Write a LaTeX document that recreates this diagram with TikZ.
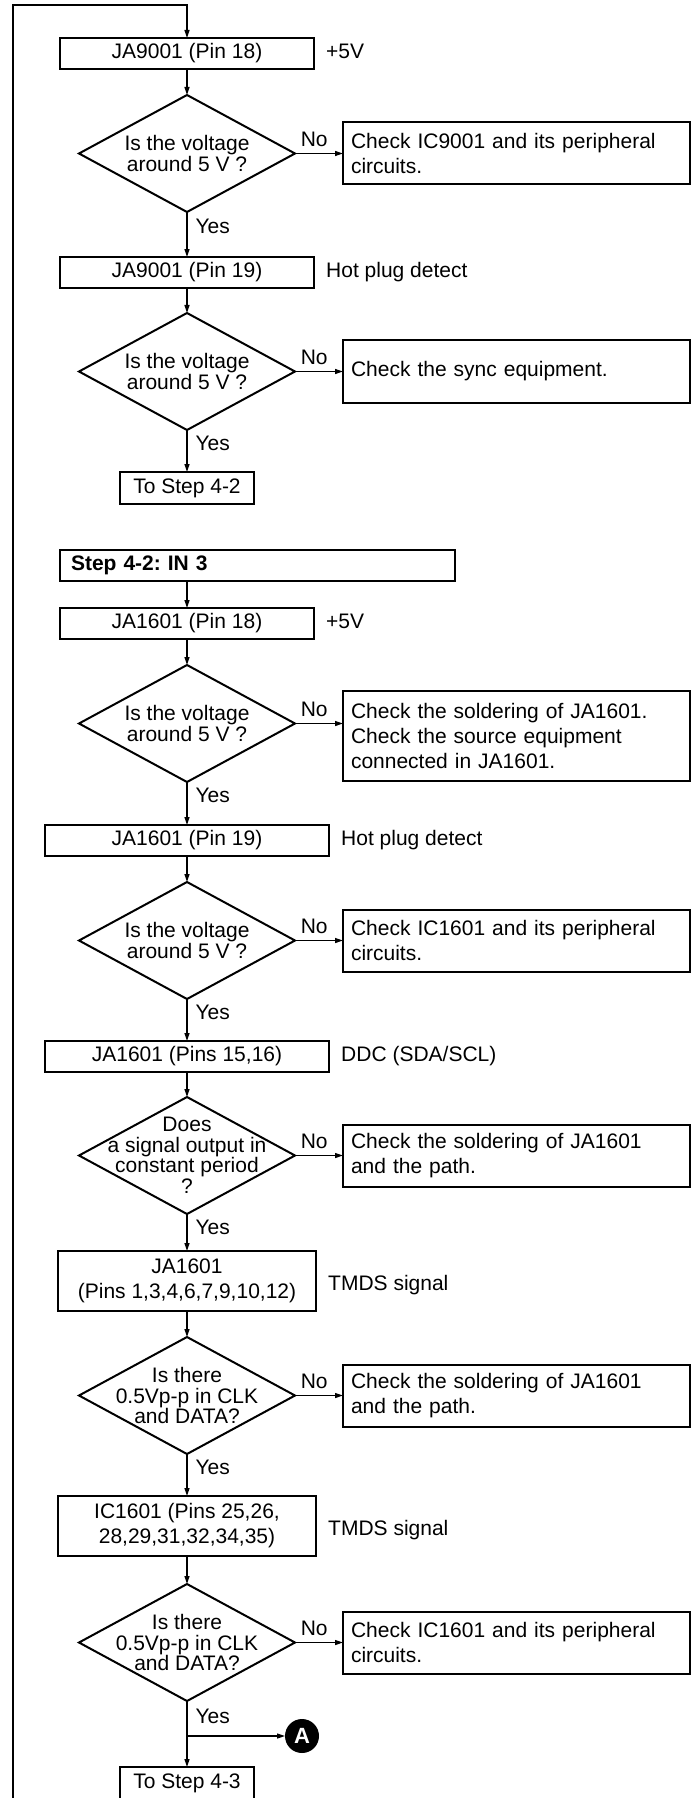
\documentclass[tikz,border=0pt]{standalone}
\usepackage{fontspec}
\setmainfont{Liberation Sans}
\usetikzlibrary{arrows.meta,positioning,shapes.geometric}
\frenchspacing

\begin{document}
\begin{tikzpicture}[
  x=1pt,y=1pt,
  txt/.style={font=\fontsize{21}{25}\selectfont},
  tbox/.style={txt,draw,line width=2pt,outer sep=0pt,minimum height=31pt,inner ysep=3pt,align=center},
  ask/.style={diamond,draw,line width=2pt,outer sep=0pt,minimum width=216pt,minimum height=117pt,inner sep=0pt},
  qtext/.style={font=\fontsize{21}{20.5}\selectfont,align=center,inner sep=0pt},
  fixbox/.style={txt,draw,line width=2pt,outer sep=0pt,minimum height=62pt,text width=331pt,inner xsep=8pt,align=left},
  note/.style={txt,inner sep=0pt},
  yes/.style={txt,right,inner sep=0pt,xshift=8pt},
  no/.style={txt,above=6pt,inner sep=0pt},
  tag/.style={circle,fill=black,minimum size=34pt,inner sep=0pt,outer sep=0pt,text=white,
              font=\fontsize{22}{22}\selectfont\bfseries},
  wire/.style={line width=1.2pt},
  link/.style={wire,-{Triangle[length=8pt,width=5pt]}}
]
\useasboundingbox (0,0) rectangle (691,-1798);

% main column
\node[tbox,minimum width=254pt,anchor=north] (b1) at (187,-38) {JA9001 (Pin 18)};
\node[ask,below=26pt of b1,label={[qtext]center:{Is the voltage\\around 5 V ?}}] (q1) {};
\node[tbox,minimum width=254pt,below=45pt of q1] (b2) {JA9001 (Pin 19)};
\node[ask,below=25pt of b2,label={[qtext]center:{Is the voltage\\around 5 V ?}}] (q2) {};
\node[tbox,minimum width=134pt,minimum height=32pt,below=42pt of q2] (done1) {To Step 4-2};

\node[tbox,below=46pt of done1,xshift=70.5pt,text width=373pt,inner xsep=11pt,align=left,
      font=\fontsize{21}{25}\selectfont\bfseries] (head) {Step 4-2: IN 3};
\coordinate (h) at (head.south -| done1.south);

\node[tbox,minimum width=254pt,below=27pt of h] (b3) {JA1601 (Pin 18)};
\node[ask,below=26pt of b3,label={[qtext]center:{Is the voltage\\around 5 V ?}}] (q3) {};
\node[tbox,minimum width=284pt,below=43pt of q3] (b4) {JA1601 (Pin 19)};
\node[ask,below=26pt of b4,label={[qtext]center:{Is the voltage\\around 5 V ?}}] (q4) {};
\node[tbox,minimum width=284pt,below=42pt of q4] (b5) {JA1601 (Pins 15,16)};
\node[ask,below=25pt of b5,label={[qtext]center:{Does\\a signal output in\\constant period\\?}}] (q5) {};
\node[tbox,minimum width=258pt,minimum height=60pt,below=37pt of q5] (b6) {JA1601\\(Pins 1,3,4,6,7,9,10,12)};
\node[ask,below=26pt of b6,label={[qtext]center:{Is there\\0.5Vp-p in CLK\\and DATA?}}] (q6) {};
\node[tbox,minimum width=258pt,minimum height=60pt,below=42pt of q6] (b7) {IC1601 (Pins 25,26,\\28,29,31,32,34,35)};
\node[ask,below=28pt of b7,label={[qtext]center:{Is there\\0.5Vp-p in CLK\\and DATA?}}] (q7) {};
\coordinate[below=35pt of q7] (fork);
\node[tbox,minimum width=134pt,minimum height=32pt,below=31pt of fork] (done2) {To Step 4-3};
\node[tag,right=98pt of fork] (A) {A};

% what to check on a No
\node[fixbox,right=48pt of q1] (c1) {Check IC9001 and its peripheral\\circuits.};
\node[fixbox,minimum height=63pt,right=48pt of q2] (c2) {Check the sync equipment.};
\node[fixbox,minimum height=90pt,right=48pt of q3,yshift=-12.5pt] (c3) {Check the soldering of JA1601.\\Check the source equipment\\connected in JA1601.};
\node[fixbox,right=48pt of q4] (c4) {Check IC1601 and its peripheral\\circuits.};
\node[fixbox,right=48pt of q5] (c5) {Check the soldering of JA1601\\and the path.};
\node[fixbox,right=48pt of q6] (c6) {Check the soldering of JA1601\\and the path.};
\node[fixbox,right=48pt of q7] (c7) {Check IC1601 and its peripheral\\circuits.};

% side notes
\node[note,base right=12pt of b1] (n1) {+5V};
\node[note,base right=12pt of b2] (n2) {Hot plug detect};
\node[note,base right=12pt of b3] (n3) {+5V};
\node[note,base right=12pt of b4] (n4) {Hot plug detect};
\node[note,base right=12pt of b5] (n5) {DDC (SDA/SCL)};
\node[note,right=12pt of b6,yshift=-4pt] (n6) {TMDS signal};
\node[note,right=12pt of b7,yshift=-4pt] (n7) {TMDS signal};

% connectors
\coordinate (back) at (13,-1800);
\coordinate (top) at (187,-5);
\draw[link] (back) |- (top) -- (b1);
\draw[link] (b1) -- (q1);
\draw[link] (q1) -- node[yes,pos=0.31]{Yes} (b2);
\draw[link] (b2) -- (q2);
\draw[link] (q2) -- node[yes,pos=0.31]{Yes} (done1);
\draw[link] (h) -- (b3);
\draw[link] (b3) -- (q3);
\draw[link] (q3) -- node[yes,pos=0.31]{Yes} (b4);
\draw[link] (b4) -- (q4);
\draw[link] (q4) -- node[yes,pos=0.31]{Yes} (b5);
\draw[link] (b5) -- (q5);
\draw[link] (q5) -- node[yes,pos=0.35]{Yes} (b6);
\draw[link] (b6) -- (q6);
\draw[link] (q6) -- node[yes,pos=0.31]{Yes} (b7);
\draw[link] (b7) -- (q7);
\draw[wire] (q7) -- node[yes,pos=0.43]{Yes} (fork);
\draw[link] (fork) -- (done2);
\draw[link] (fork) -- (A);

\draw[link] (q1.east) -- node[no,pos=0.4]{No} (q1.east -| c1.west);
\draw[link] (q2.east) -- node[no,pos=0.4]{No} (q2.east -| c2.west);
\draw[link] (q3.east) -- node[no,pos=0.4]{No} (q3.east -| c3.west);
\draw[link] (q4.east) -- node[no,pos=0.4]{No} (q4.east -| c4.west);
\draw[link] (q5.east) -- node[no,pos=0.4]{No} (q5.east -| c5.west);
\draw[link] (q6.east) -- node[no,pos=0.4]{No} (q6.east -| c6.west);
\draw[link] (q7.east) -- node[no,pos=0.4]{No} (q7.east -| c7.west);
\end{tikzpicture}
\end{document}
